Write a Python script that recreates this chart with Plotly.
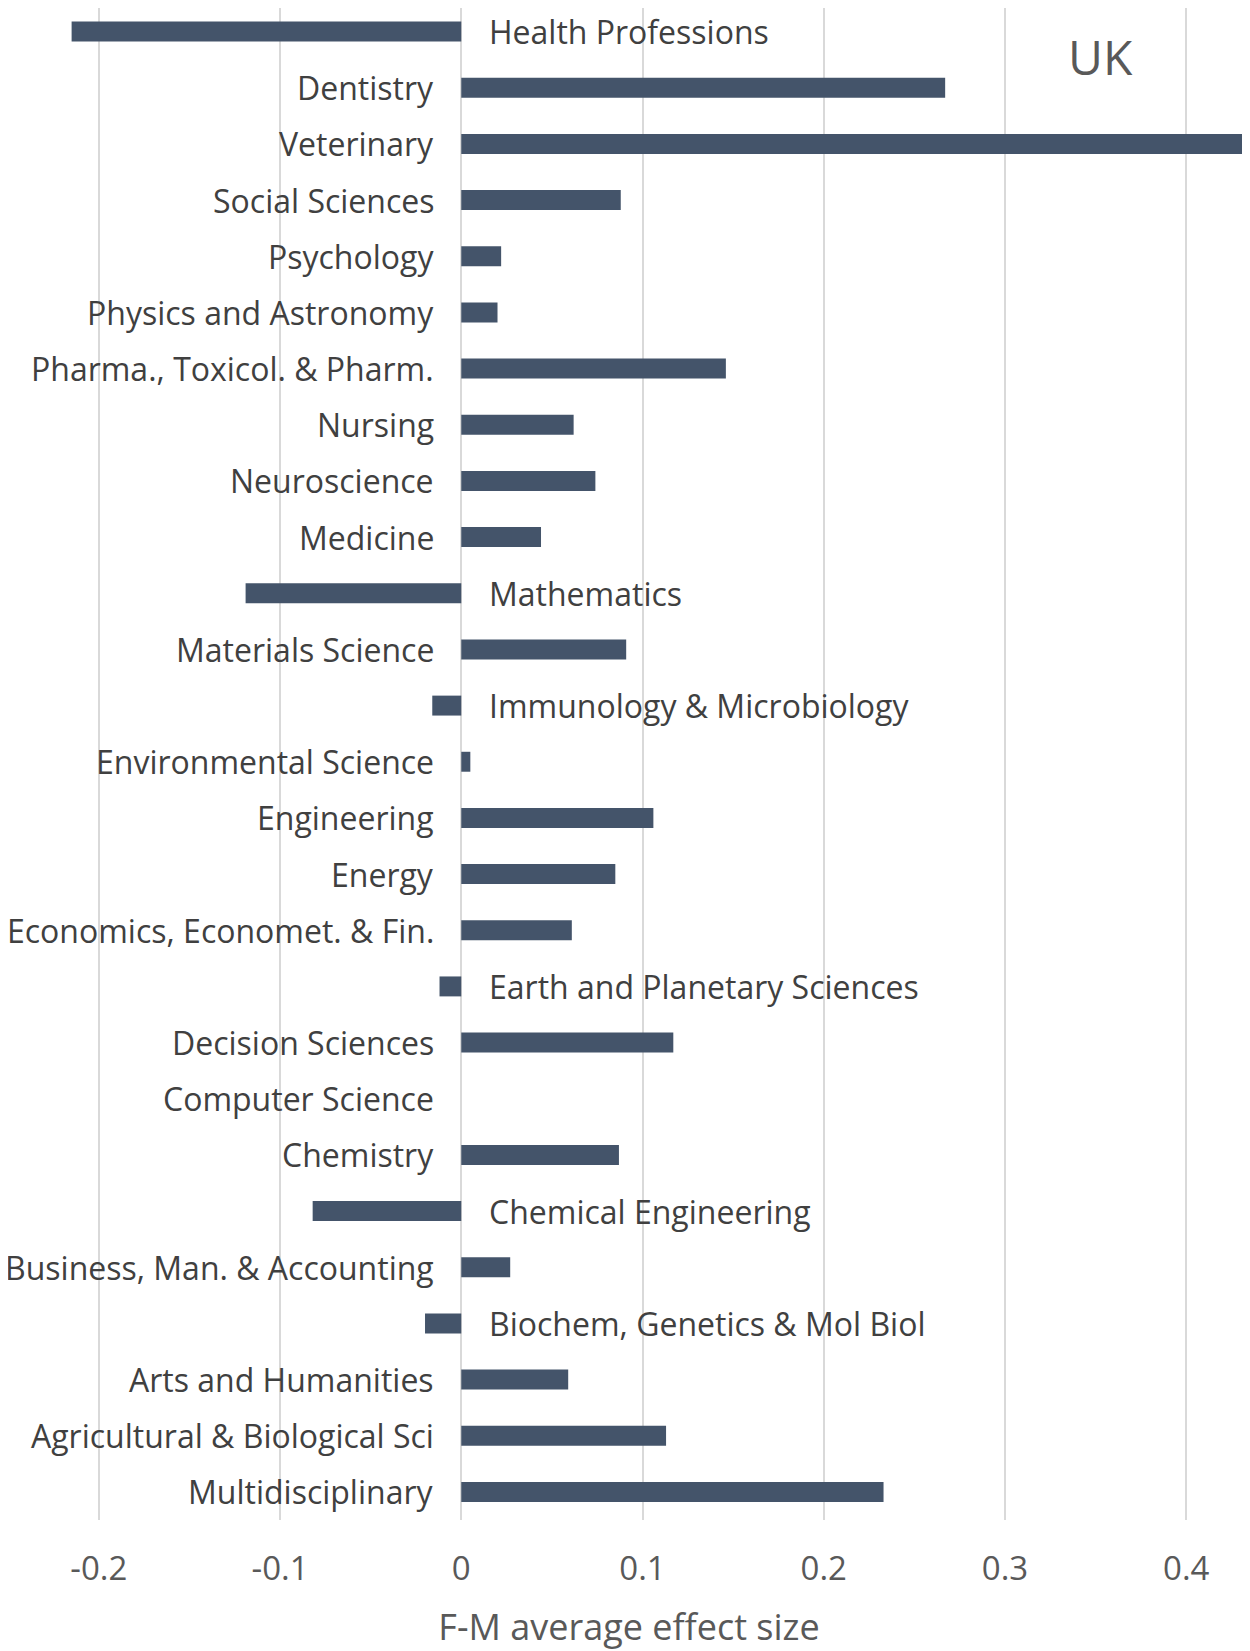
import plotly.graph_objects as go

# subjects listed top to bottom as in the chart
subjects = [
    "Health Professions", "Dentistry", "Veterinary", "Social Sciences", "Psychology",
    "Physics and Astronomy", "Pharma., Toxicol. & Pharm.", "Nursing", "Neuroscience",
    "Medicine", "Mathematics", "Materials Science", "Immunology & Microbiology",
    "Environmental Science", "Engineering", "Energy", "Economics, Economet. & Fin.",
    "Earth and Planetary Sciences", "Decision Sciences", "Computer Science", "Chemistry",
    "Chemical Engineering", "Business, Man. & Accounting", "Biochem, Genetics & Mol Biol",
    "Arts and Humanities", "Agricultural & Biological Sci", "Multidisciplinary",
]
effect_size = [
    -0.215, 0.267, 0.44, 0.088, 0.022,
    0.020, 0.146, 0.062, 0.074,
    0.044, -0.119, 0.091, -0.016,
    0.005, 0.106, 0.085, 0.061,
    -0.012, 0.117, 0.0, 0.087,
    -0.082, 0.027, -0.020,
    0.059, 0.113, 0.233,
]
tick_vals = [-0.2, -0.1, 0, 0.1, 0.2, 0.3, 0.4]
tick_text = ["-0.2", "-0.1", "0", "0.1", "0.2", "0.3", "0.4"]

font_family = "Open Sans"
text_color = "#404040"

fig = go.Figure(go.Bar(
    x=effect_size,
    y=subjects,
    orientation="h",
    marker=dict(color="#44546A", line=dict(width=0)),
))

# labels sit left of zero for positive bars, right of zero for negative bars
for name, val in zip(subjects, effect_size):
    if val < 0:
        fig.add_annotation(x=0, y=name, text=name, showarrow=False,
                           xanchor="left", xshift=26,
                           font=dict(family=font_family, size=32, color=text_color))
    else:
        fig.add_annotation(x=0, y=name, text=name, showarrow=False,
                           xanchor="right", xshift=-25,
                           font=dict(family=font_family, size=32, color=text_color))

fig.add_annotation(x=0.88, y=0.968, xref="paper", yref="paper", text="UK",
                   showarrow=False, xanchor="center", yanchor="middle",
                   font=dict(family=font_family, size=48, color="#595959"))

# page body has an 8px margin, so the figure is 8px smaller than the window
fig.update_layout(
    width=1242, height=1643,
    margin=dict(l=0, r=0, t=0, b=131),
    plot_bgcolor="white", paper_bgcolor="white",
    bargap=0.645,
    showlegend=False,
    font=dict(family=font_family, color=text_color),
)
fig.update_xaxes(
    range=[-0.2501, 0.4352],
    tickvals=tick_vals, ticktext=tick_text,
    tickfont=dict(size=33, color="#595959"),
    showgrid=True, gridcolor="#d9d9d9", gridwidth=2,
    zeroline=True, zerolinecolor="#d9d9d9", zerolinewidth=2,
    ticks="outside", ticklen=19, tickcolor="rgba(0,0,0,0)",
    title=dict(text="F-M average effect size", standoff=28,
               font=dict(size=36, color="#595959")),
)
fig.update_yaxes(range=[26.5, -0.42], showticklabels=False, showgrid=False, zeroline=False)

fig.write_html("out.html")
